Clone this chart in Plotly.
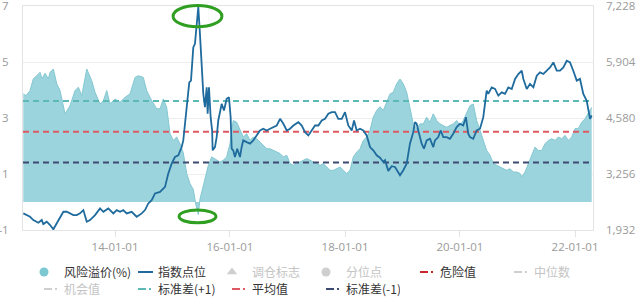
import pandas as pd
import plotly.graph_objects as go

# Risk premium (%) — time in decimal years
premium_t = [
    2012.405, 2012.452, 2012.522, 2012.579, 2012.638, 2012.696, 2012.730, 2012.783, 2012.840, 2012.870,
    2012.927, 2012.986, 2013.043, 2013.130, 2013.217, 2013.304, 2013.362, 2013.421, 2013.508, 2013.595,
    2013.652, 2013.739, 2013.797, 2013.856, 2013.913, 2014.000, 2014.087, 2014.174, 2014.261, 2014.348,
    2014.405, 2014.492, 2014.551, 2014.638, 2014.725, 2014.783, 2014.840, 2014.899, 2014.957, 2015.014,
    2015.073, 2015.130, 2015.188, 2015.247, 2015.304, 2015.362, 2015.403, 2015.449, 2015.478, 2015.508,
    2015.565, 2015.623, 2015.682, 2015.769, 2015.826, 2015.883, 2015.943, 2016.000, 2016.057, 2016.117,
    2016.174, 2016.231, 2016.290, 2016.348, 2016.405, 2016.464, 2016.522, 2016.579, 2016.638, 2016.696,
    2016.753, 2016.812, 2016.870, 2016.927, 2016.986, 2017.043, 2017.101, 2017.160, 2017.217, 2017.275,
    2017.334, 2017.391, 2017.449, 2017.508, 2017.565, 2017.623, 2017.682, 2017.739, 2017.797, 2017.856,
    2017.913, 2017.970, 2018.030, 2018.087, 2018.144, 2018.203, 2018.261, 2018.318, 2018.377, 2018.435,
    2018.492, 2018.551, 2018.609, 2018.666, 2018.725, 2018.783, 2018.840, 2018.899, 2018.957, 2019.014,
    2019.073, 2019.130, 2019.188, 2019.247, 2019.304, 2019.362, 2019.421, 2019.478, 2019.536, 2019.595,
    2019.652, 2019.710, 2019.769, 2019.826, 2019.883, 2019.943, 2020.000, 2020.057, 2020.117, 2020.174,
    2020.231, 2020.290, 2020.348, 2020.405, 2020.464, 2020.522, 2020.579, 2020.638, 2020.696, 2020.753,
    2020.812, 2020.870, 2020.927, 2020.986, 2021.043, 2021.073, 2021.130, 2021.188, 2021.247, 2021.304,
    2021.362, 2021.421, 2021.478, 2021.536, 2021.595, 2021.652, 2021.710, 2021.769, 2021.826, 2021.883,
    2021.943, 2022.000, 2022.057, 2022.117, 2022.174, 2022.231, 2022.290,
]
premium = [
    3.86, 3.80, 3.98, 4.40, 4.51, 4.63, 4.40, 4.60, 4.40, 4.63,
    4.75, 4.22, 3.98, 3.15, 3.44, 3.98, 4.10, 3.80, 4.75, 4.33,
    3.92, 3.50, 3.62, 3.98, 3.50, 3.68, 3.56, 3.74, 3.86, 4.45,
    4.51, 4.45, 3.98, 3.62, 3.33, 3.33, 3.68, 3.38, 2.44, 2.20,
    2.32, 2.08, 1.75, 1.02, 0.66, 0.45, -0.05, -0.45, 0.10, 0.35,
    0.72, 1.30, 1.61, 1.49, 1.43, 1.49, 1.61, 2.08, 2.91, 2.85,
    2.56, 2.32, 2.44, 2.20, 2.32, 2.26, 2.14, 2.02, 1.90, 1.90,
    1.84, 1.78, 1.73, 1.61, 1.67, 1.37, 1.31, 1.43, 1.43, 1.49,
    1.55, 1.49, 1.43, 1.37, 1.31, 1.37, 1.25, 1.13, 1.13, 1.19,
    1.25, 1.13, 1.02, 1.13, 1.61, 1.78, 1.90, 2.20, 2.32, 2.56,
    3.03, 3.27, 3.40, 3.27, 3.56, 3.86, 3.92, 4.22, 4.39, 4.22,
    3.92, 3.38, 2.79, 2.62, 2.79, 2.79, 3.03, 2.85, 3.15, 2.91,
    2.79, 2.73, 2.67, 2.73, 2.79, 2.91, 2.73, 2.91, 3.21, 3.44,
    3.50, 2.91, 2.56, 2.20, 1.84, 1.67, 1.37, 1.31, 1.25, 1.19,
    1.13, 1.19, 1.07, 1.07, 1.02, 0.90, 1.07, 1.37, 1.67, 1.96,
    1.84, 1.84, 2.08, 2.20, 2.26, 2.20, 2.32, 2.26, 2.38, 2.20,
    2.32, 2.62, 2.62, 2.85, 2.97, 3.15, 3.38,
]

# Index level — time in decimal years
index_t = [
    2012.405, 2012.464, 2012.522, 2012.579, 2012.638, 2012.666, 2012.725, 2012.753, 2012.812, 2012.870,
    2012.927, 2012.986, 2013.043, 2013.101, 2013.160, 2013.217, 2013.275, 2013.334, 2013.391, 2013.449,
    2013.508, 2013.565, 2013.652, 2013.739, 2013.797, 2013.883, 2013.970, 2014.030, 2014.087, 2014.144,
    2014.203, 2014.290, 2014.377, 2014.464, 2014.522, 2014.579, 2014.638, 2014.696, 2014.783, 2014.870,
    2014.927, 2014.986, 2015.043, 2015.101, 2015.160, 2015.188, 2015.247, 2015.292, 2015.322, 2015.362,
    2015.391, 2015.421, 2015.449, 2015.478, 2015.508, 2015.536, 2015.565, 2015.595, 2015.612, 2015.635,
    2015.664, 2015.690, 2015.699, 2015.739, 2015.769, 2015.797, 2015.856, 2015.896, 2015.943, 2015.983,
    2016.012, 2016.030, 2016.057, 2016.087, 2016.127, 2016.174, 2016.203, 2016.231, 2016.290, 2016.348,
    2016.405, 2016.464, 2016.522, 2016.579, 2016.638, 2016.696, 2016.753, 2016.812, 2016.870, 2016.927,
    2016.986, 2017.043, 2017.101, 2017.188, 2017.247, 2017.304, 2017.362, 2017.421, 2017.478, 2017.536,
    2017.595, 2017.652, 2017.710, 2017.769, 2017.826, 2017.883, 2017.943, 2018.000, 2018.057, 2018.117,
    2018.157, 2018.203, 2018.261, 2018.318, 2018.377, 2018.435, 2018.492, 2018.551, 2018.609, 2018.666,
    2018.696, 2018.753, 2018.812, 2018.870, 2018.927, 2018.957, 2019.014, 2019.073, 2019.130, 2019.188,
    2019.217, 2019.247, 2019.275, 2019.334, 2019.374, 2019.421, 2019.478, 2019.536, 2019.565, 2019.623,
    2019.664, 2019.710, 2019.769, 2019.826, 2019.883, 2019.943, 2020.000, 2020.057, 2020.104, 2020.144,
    2020.174, 2020.231, 2020.290, 2020.348, 2020.405, 2020.435, 2020.464, 2020.492, 2020.551, 2020.609,
    2020.666, 2020.725, 2020.783, 2020.840, 2020.899, 2020.957, 2021.014, 2021.073, 2021.101, 2021.160,
    2021.217, 2021.275, 2021.334, 2021.391, 2021.449, 2021.508, 2021.565, 2021.623, 2021.682, 2021.739,
    2021.797, 2021.856, 2021.913, 2021.970, 2022.030, 2022.087, 2022.144, 2022.203, 2022.231, 2022.261,
    2022.290,
]
index_level = [
    2325, 2285, 2245, 2167, 2128, 2104, 2167, 2073, 2128, 2050,
    1948, 2089, 2207, 2363, 2363, 2325, 2285, 2285, 2325, 2403,
    2128, 2167, 2285, 2443, 2363, 2443, 2325, 2403, 2363, 2403,
    2325, 2363, 2245, 2325, 2403, 2560, 2638, 2796, 2834, 2951,
    3267, 3502, 3657, 3697, 3893, 4050, 4800, 5423, 5463, 6247,
    6334, 6875, 7200, 6569, 5628, 5157, 4834, 5305, 4679, 5305,
    4599, 4286, 3815, 3893, 4128, 4521, 4914, 4757, 5032, 5070,
    4599, 3855, 3815, 3657, 3855, 3657, 3893, 4050, 4010, 3973,
    4050, 4168, 4286, 4326, 4286, 4326, 4364, 4403, 4561, 4443,
    4286, 4326, 4403, 4481, 4403, 4246, 4168, 4286, 4403, 4403,
    4521, 4561, 4679, 4717, 4717, 4561, 4561, 4717, 4403, 4286,
    4521, 4286, 4326, 4286, 4168, 3893, 3815, 3697, 3640, 3540,
    3580, 3330, 3440, 3422, 3304, 3227, 3344, 3502, 3973, 4246,
    4481, 4443, 4286, 3973, 3855, 4050, 4090, 3893, 4050, 4128,
    4286, 4128, 4128, 4090, 4208, 4364, 4443, 4403, 4599, 4208,
    4128, 4090, 4286, 4326, 4599, 4914, 5227, 5150, 5305, 5267,
    5110, 5187, 5150, 5305, 5267, 5503, 5620, 5698, 5503, 5267,
    5385, 5305, 5580, 5658, 5620, 5698, 5776, 5894, 5698, 5698,
    5776, 5933, 5894, 5698, 5463, 5503, 5150, 4992, 4757, 4561,
    4639,
]

# Reference levels of the risk premium
mean_value = 2.51
std_value = 1.10

# Axes
x_span = [2012.400, 2022.313]
left_ticks = [-1, 1, 3, 5, 7]
left_labels = ["-1", "1", "3", "5", "7"]
right_ticks = [1932, 3256, 4580, 5904, 7228]


def to_date(t):
    """Decimal year -> pandas Timestamp."""
    year = int(t)
    start = pd.Timestamp(year=year, month=1, day=1)
    end = pd.Timestamp(year=year + 1, month=1, day=1)
    return start + (end - start) * (t - year)


premium_dates = [to_date(t) for t in premium_t]
index_dates = [to_date(t) for t in index_t]
x_range = [to_date(t) for t in x_span]

TEAL = "#5cb9b5"
RED = "#de5a62"
NAVY = "#3f4a72"
DANGER = "#c9252b"
GREY = "#cfcfcf"
ICON_SOLID = "0px,15px,15px,100px"
ICON_DASHDOT = "0px,15px,8px,3px,2px,100px"

fig = go.Figure()

# Risk premium area
fig.add_trace(go.Scatter(
    x=premium_dates, y=premium, mode="lines",
    line=dict(color="#84c8d2", width=1),
    fill="tozeroy", fillcolor="#9bd4dc",
    showlegend=False, hoverinfo="skip",
))

# Mean and +/- one standard deviation
for level, color in [(mean_value + std_value, TEAL), (mean_value, RED), (mean_value - std_value, NAVY)]:
    fig.add_trace(go.Scatter(
        x=x_range, y=[level, level], mode="lines",
        line=dict(color=color, width=2, dash="6px,4px"),
        showlegend=False, hoverinfo="skip",
    ))

# Index level on the right axis
fig.add_trace(go.Scatter(
    x=index_dates, y=index_level, mode="lines", yaxis="y2",
    line=dict(color="#1f6b9d", width=1.8),
    showlegend=False, hoverinfo="skip",
))


def legend_entry(name, legend, color, kind, text_color=None):
    label = name if text_color is None else f"<span style='color:{text_color}'>{name}</span>"
    if kind in ("circle", "triangle-up"):
        tr = go.Scatter(x=[None], y=[None], mode="markers",
                        marker=dict(symbol=kind, size=9, color=color))
    else:
        tr = go.Scatter(x=[None], y=[None], mode="lines",
                        line=dict(color=color, width=2,
                                  dash=ICON_SOLID if kind == "solid" else ICON_DASHDOT))
    tr.update(name=label, legend=legend, hoverinfo="skip")
    fig.add_trace(tr)


legend_entry("风险溢价(%)", "legend", "#7cc8d2", "circle")
legend_entry("指数点位", "legend", "#1f6b9d", "solid")
legend_entry("调仓标志", "legend", GREY, "triangle-up", "#c4c4c4")
legend_entry("分位点", "legend", GREY, "circle", "#c4c4c4")
legend_entry("危险值", "legend", DANGER, "dashdot")
legend_entry("中位数", "legend", GREY, "dashdot", "#c4c4c4")
legend_entry("机会值", "legend2", GREY, "dashdot", "#c4c4c4")
legend_entry("标准差(+1)", "legend2", TEAL, "dashdot")
legend_entry("平均值", "legend2", RED, "dashdot")
legend_entry("标准差(-1)", "legend2", NAVY, "dashdot")

# Highlight the index peak and the premium trough
peak_date = index_dates[index_level.index(max(index_level))]
trough_date = premium_dates[premium.index(min(premium))]
ring = dict(type="circle", xref="x", yref="paper", line=dict(color="#2f9f22", width=3),
            fillcolor="rgba(0,0,0,0)", layer="above")
fig.add_shape(**ring, x0=peak_date - pd.Timedelta(days=160), x1=peak_date + pd.Timedelta(days=150),
              y0=0.907, y1=1.002)
fig.add_shape(**ring, x0=trough_date - pd.Timedelta(days=122), x1=trough_date + pd.Timedelta(days=112),
              y0=0.032, y1=0.089)

tick_font = dict(family="Open Sans", size=11.5, color="#9a9a9a")
legend_common = dict(
    orientation="h", xref="container", yref="container",
    xanchor="left", yanchor="top", x=24 / 640,
    entrywidth=49, entrywidthmode="pixels",
    font=dict(family="Noto Sans CJK SC", size=12, color="#333333"),
    bgcolor="rgba(0,0,0,0)", borderwidth=0, itemclick=False, itemdoubleclick=False,
)

fig.update_layout(
    width=640, height=299,
    margin=dict(l=23, r=47, t=6, b=69, autoexpand=False),
    plot_bgcolor="white", paper_bgcolor="white",
    xaxis=dict(
        type="date", range=x_range,
        tick0="2014-01-01", dtick="M24", tickformat="%y-%m-%d",
        ticks="outside", ticklen=6, tickcolor="#e3e3e3",
        showline=True, linecolor="#e3e3e3", mirror=True,
        showgrid=False, zeroline=False, tickfont=tick_font,
    ),
    yaxis=dict(
        range=[-1, 7], tickvals=left_ticks, ticktext=left_labels, ticks="",
        showgrid=True, gridcolor="#ededed", zeroline=False,
        showline=True, linecolor="#e3e3e3", mirror=True,
        tickfont=tick_font, ticklabelstandoff=11, ticklabeloverflow="allow",
    ),
    yaxis2=dict(
        overlaying="y", side="right", range=[1932, 7228],
        tickvals=right_ticks, ticktext=[f"{v:,}" for v in right_ticks], ticks="",
        showgrid=False, zeroline=False, showline=False,
        tickfont=tick_font, ticklabelstandoff=12, ticklabeloverflow="allow",
    ),
    legend=dict(**legend_common, y=(299 - 257.5) / 299),
    legend2=dict(**legend_common, y=(299 - 274.5) / 299),
    showlegend=True,
)

fig.write_html("out.html")
